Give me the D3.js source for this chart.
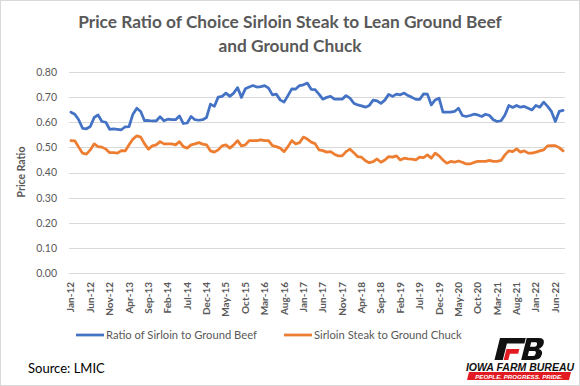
<!DOCTYPE html>
<html>
<head>
<meta charset="utf-8">
<script src="https://cdn.jsdelivr.net/npm/d3@7"></script>
<style>
    body {margin: 0; background: #fff;}
    svg {display: block; font-family: Lato, 'Open Sans', sans-serif;}
</style>
</head>
<body>
<div class="chart"></div>
<script>
// monthly ratios, Jan-12 .. Aug-22
let beefRatio = [
    0.640, 0.632, 0.610, 0.576, 0.574, 0.583, 0.619, 0.629, 0.603, 0.600, 0.572, 0.574,
    0.572, 0.570, 0.582, 0.583, 0.632, 0.656, 0.643, 0.606, 0.607, 0.605, 0.605, 0.622,
    0.606, 0.612, 0.610, 0.610, 0.625, 0.595, 0.597, 0.623, 0.610, 0.608, 0.610, 0.619,
    0.672, 0.663, 0.700, 0.703, 0.716, 0.703, 0.716, 0.738, 0.699, 0.733, 0.740, 0.746,
    0.740, 0.742, 0.746, 0.736, 0.709, 0.712, 0.689, 0.680, 0.706, 0.733, 0.732, 0.746,
    0.749, 0.756, 0.731, 0.730, 0.712, 0.692, 0.699, 0.703, 0.692, 0.692, 0.692, 0.706,
    0.696, 0.676, 0.669, 0.665, 0.660, 0.667, 0.688, 0.685, 0.675, 0.688, 0.711, 0.703,
    0.712, 0.709, 0.716, 0.706, 0.699, 0.691, 0.691, 0.713, 0.712, 0.669, 0.689, 0.696,
    0.640, 0.640, 0.640, 0.643, 0.656, 0.627, 0.623, 0.627, 0.632, 0.629, 0.623, 0.632,
    0.627, 0.610, 0.603, 0.606, 0.629, 0.667, 0.659, 0.667, 0.660, 0.663, 0.656, 0.649,
    0.667, 0.660, 0.680, 0.663, 0.643, 0.603, 0.643, 0.647
];
let chuckRatio = [
    0.527, 0.526, 0.501, 0.477, 0.473, 0.490, 0.514, 0.503, 0.501, 0.493, 0.479, 0.479,
    0.477, 0.487, 0.486, 0.510, 0.533, 0.546, 0.541, 0.514, 0.493, 0.506, 0.510, 0.523,
    0.514, 0.514, 0.514, 0.510, 0.523, 0.503, 0.497, 0.510, 0.514, 0.519, 0.513, 0.510,
    0.486, 0.481, 0.490, 0.506, 0.510, 0.497, 0.510, 0.527, 0.506, 0.510, 0.527, 0.527,
    0.527, 0.530, 0.527, 0.527, 0.507, 0.503, 0.497, 0.483, 0.503, 0.527, 0.514, 0.519,
    0.541, 0.533, 0.521, 0.515, 0.490, 0.487, 0.481, 0.483, 0.473, 0.466, 0.466, 0.483,
    0.493, 0.479, 0.463, 0.461, 0.447, 0.439, 0.443, 0.454, 0.441, 0.450, 0.463, 0.461,
    0.466, 0.450, 0.457, 0.454, 0.453, 0.450, 0.461, 0.459, 0.470, 0.457, 0.477, 0.466,
    0.450, 0.437, 0.444, 0.441, 0.446, 0.441, 0.434, 0.434, 0.440, 0.444, 0.444, 0.444,
    0.448, 0.444, 0.444, 0.448, 0.470, 0.486, 0.483, 0.494, 0.481, 0.486, 0.477, 0.477,
    0.481, 0.486, 0.490, 0.506, 0.507, 0.507, 0.499, 0.486
];
let months = d3.timeMonths(new Date(2012, 0, 1), new Date(2022, 8, 1));
let yTicks = [0, 0.1, 0.2, 0.3, 0.4, 0.5, 0.6, 0.7, 0.8];
let seriesNames = ['Ratio of Sirloin to Ground Beef', 'Sirloin Steak to Ground Chuck'];
let titleLines = ['Price Ratio of Choice Sirloin Steak to Lean Ground Beef', 'and Ground Chuck'];

let w = 580;
let h = 386;
let grey = '#595959';
let colors = ['#4472C4', '#ED7D31'];

let svg = d3.select('.chart')
    .append('svg')
    .attr('width', w)
    .attr('height', h);

// outer border
svg.append('rect')
    .attr('x', 0.5).attr('y', 0.5)
    .attr('width', w - 1).attr('height', h - 1)
    .attr('fill', '#fff')
    .attr('stroke', '#d9d9d9');

// scale font so text spans a given width
function fitWidth(sel, target) {
    let node = sel.node();
    let fs = parseFloat(sel.attr('font-size'));
    let len = node.getComputedTextLength();
    sel.attr('font-size', (fs * target / len).toFixed(2));
}

// title
let t1 = svg.append('text')
    .attr('x', 290).attr('y', 28)
    .attr('text-anchor', 'middle')
    .attr('font-size', 17).attr('font-weight', 'bold')
    .attr('fill', grey)
    .text(titleLines[0]);
fitWidth(t1, 424);
svg.append('text')
    .attr('x', 290).attr('y', 52)
    .attr('text-anchor', 'middle')
    .attr('font-size', t1.attr('font-size')).attr('font-weight', 'bold')
    .attr('fill', grey)
    .text(titleLines[1]);

let x = d3.scaleBand().domain(d3.range(months.length)).range([69, 565]);
let y = d3.scaleLinear().domain([0, 0.8]).range([273, 72]);
let cx = function(i) {return x(i) + x.bandwidth() / 2;};

// grid
svg.append('g')
    .selectAll('line')
    .data(yTicks)
    .enter()
    .append('line')
    .attr('x1', 69).attr('x2', 565)
    .attr('y1', function(d) {return Math.round(y(d)) + 0.5;})
    .attr('y2', function(d) {return Math.round(y(d)) + 0.5;})
    .attr('stroke', '#d9d9d9')
    .attr('stroke-width', 1);

let yAxis = d3.axisLeft(y).tickValues(yTicks).tickFormat(d3.format('.2f')).tickSize(0).tickPadding(12);
let gy = svg.append('g').attr('transform', 'translate(69,0)').call(yAxis);
gy.select('.domain').remove();
gy.selectAll('text').attr('fill', grey).attr('font-size', 10.5).attr('font-family', 'Lato, sans-serif');

let fmt = d3.timeFormat('%b-%y');
let xAxis = d3.axisBottom(x)
    .tickValues(d3.range(0, months.length, 5))
    .tickFormat(function(i) {return fmt(months[i]);})
    .tickSize(0);
let gx = svg.append('g').attr('transform', 'translate(0,273)').call(xAxis);
gx.select('.domain').remove();
gx.selectAll('text')
    .attr('transform', 'rotate(-90)')
    .attr('x', -9).attr('y', 0).attr('dy', '0.35em')
    .attr('text-anchor', 'end')
    .attr('fill', grey)
    .attr('font-size', 10)
    .attr('font-weight', 'bold')
    .attr('font-family', 'Lato, sans-serif');

// y title
svg.append('text')
    .attr('transform', 'translate(25,172) rotate(-90)')
    .attr('text-anchor', 'middle')
    .attr('font-size', 10.5).attr('font-weight', 'bold')
    .attr('fill', grey)
    .text('Price Ratio');

let line = d3.line()
    .x(function(d, i) {return cx(i);})
    .y(function(d) {return y(d);});

[beefRatio, chuckRatio].forEach(function(data, k) {
    svg.append('path')
        .datum(data)
        .attr('d', line)
        .attr('fill', 'none')
        .attr('stroke', colors[k])
        .attr('stroke-width', 2.75)
        .attr('stroke-linejoin', 'round')
        .attr('stroke-linecap', 'round');
});

// legend
let legendX = [76, 284];
seriesNames.forEach(function(name, k) {
    let g = svg.append('g').attr('transform', 'translate(' + legendX[k] + ',335)');
    g.append('line')
        .attr('x1', 0).attr('x2', 28)
        .attr('stroke', colors[k]).attr('stroke-width', 2.75);
    let tx = g.append('text')
        .attr('x', 30).attr('dy', '0.35em')
        .attr('font-size', 11.5)
        .attr('fill', grey)
        .text(name);
    fitWidth(tx, k === 0 ? 151 : 148);
});

svg.append('text')
    .attr('x', 28).attr('y', 373)
    .attr('font-size', 13)
    .attr('fill', '#000')
    .text('Source: LMIC');

// Iowa Farm Bureau logo
let logo = svg.append('g').attr('class', 'logo');
let mark = logo.append('g').attr('transform', 'translate(500,338) skewX(-14) scale(0.92)');
mark.append('path')
    .attr('d', 'M0,0 H28 V6 H9 V24 H0 Z')
    .attr('fill', '#111');
mark.append('path')
    .attr('d', 'M10,12 H24 V17 H15 V24 H10 Z')
    .attr('fill', '#e21b23');
mark.append('path')
    .attr('d', 'M29,0 H42 Q49,0 49,6 Q49,10 45,12 Q50,13.5 50,17.5 Q50,24 43,24 H29 Z M35,4.5 V9.5 H40 Q42,9.5 42,7 Q42,4.5 40,4.5 Z M35,14 V19.5 H41 Q43,19.5 43,16.75 Q43,14 41,14 Z')
    .attr('fill', '#111')
    .attr('fill-rule', 'evenodd');
logo.append('text')
    .attr('x', 520).attr('y', 370.5)
    .attr('text-anchor', 'middle')
    .attr('font-family', 'Liberation Sans, Arial, sans-serif')
    .attr('font-size', 10.5).attr('font-weight', 'bold').attr('font-style', 'italic')
    .attr('fill', '#111')
    .text('IOWA FARM BUREAU');
logo.append('path')
    .attr('d', 'M469,372 H571 L569,380 H467 Z')
    .attr('fill', '#e21b23');
logo.append('text')
    .attr('x', 519).attr('y', 378.5)
    .attr('text-anchor', 'middle')
    .attr('font-family', 'Liberation Sans, Arial, sans-serif')
    .attr('font-size', 6.2).attr('font-weight', 'bold').attr('font-style', 'italic')
    .attr('fill', '#fff')
    .text('PEOPLE. PROGRESS. PRIDE.');
</script>
</body>
</html>
